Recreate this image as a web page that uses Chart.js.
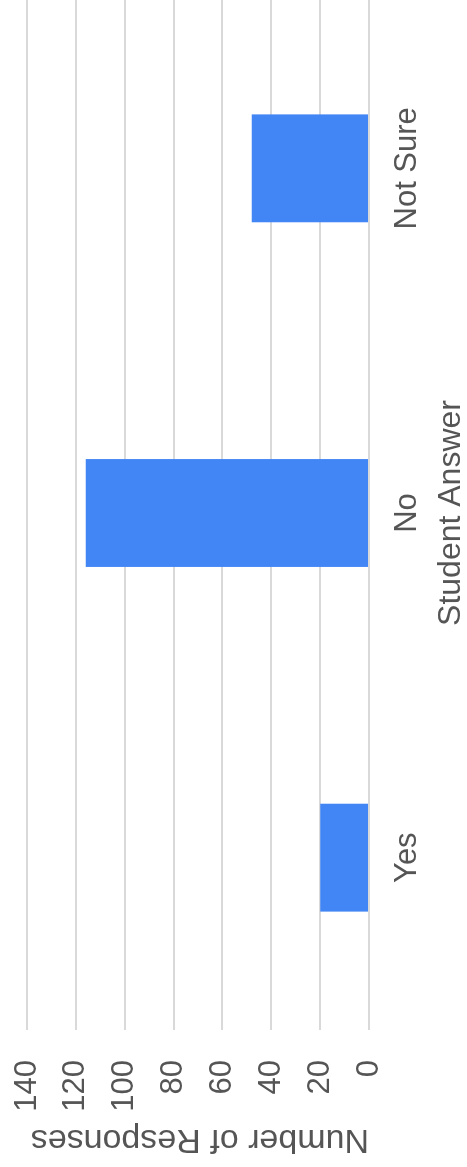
<!DOCTYPE html>
<html>
<head>
<meta charset="utf-8">
<script src="https://cdn.jsdelivr.net/npm/chart.js@4/dist/chart.umd.min.js"></script>
<style>
  html, body { margin: 0; padding: 0; background: #fff; overflow: hidden; width: 467px; height: 1167px; }
  /* chart is drawn upright, then turned a quarter to the left like the reference */
  #wrap {
    position: absolute; left: 0; top: 0;
    width: 1180px; height: 467px;
    transform-origin: 0 0;
    transform: translate(0px, 1167px) rotate(-90deg);
  }
  #wrap canvas { display: block; }
</style>
</head>
<body>
<div id="wrap"><canvas id="chart" width="1180" height="467"></canvas></div>
<script>
const categories = ['Yes', 'No', 'Not Sure'];
const responses  = [20, 116, 48];
const valueTicks = [0, 20, 40, 60, 80, 100, 120, 140];

const blue  = '#4285f4';
const grid  = '#d9d9d9';
const text  = '#555555';
const font  = "'Liberation Sans', Arial, Helvetica, sans-serif";

new Chart(document.getElementById('chart'), {
  type: 'bar',
  data: {
    labels: categories,
    datasets: [{
      label: 'Number of Responses',
      data: responses,
      backgroundColor: blue,
      borderWidth: 0,
      barPercentage: 0.313,
      categoryPercentage: 1
    }]
  },
  options: {
    responsive: false,
    animation: false,
    devicePixelRatio: 1,
    layout: { padding: { top: 27, right: 9, bottom: 0, left: 0 } },
    plugins: { legend: { display: false }, tooltip: { enabled: false } },
    scales: {
      x: {
        grid: { display: false },
        border: { display: false },
        ticks: { color: text, font: { family: font, size: 31 }, padding: 12, maxRotation: 0 },
        title: { display: true, text: 'Student Answer', color: text, font: { family: font, size: 32 }, padding: { top: 0, bottom: -3 } },
        afterFit: s => { s.height = 98; }
      },
      y: {
        min: valueTicks[0],
        max: valueTicks[valueTicks.length - 1],
        afterBuildTicks: s => { s.ticks = valueTicks.map(v => ({ value: v })); },
        grid: { color: grid, lineWidth: 2, drawTicks: false },
        border: { display: false },
        ticks: { color: text, font: { family: font, size: 31 }, padding: 30 },
        title: { display: true, text: 'Number of Responses', align: 'start', color: text, font: { family: font, size: 34 }, padding: { top: 7, bottom: 0 } },
        afterFit: s => { s.width = 137; s.paddingTop = 0; s.paddingBottom = 0; }
      }
    }
  }
});
</script>
</body>
</html>
